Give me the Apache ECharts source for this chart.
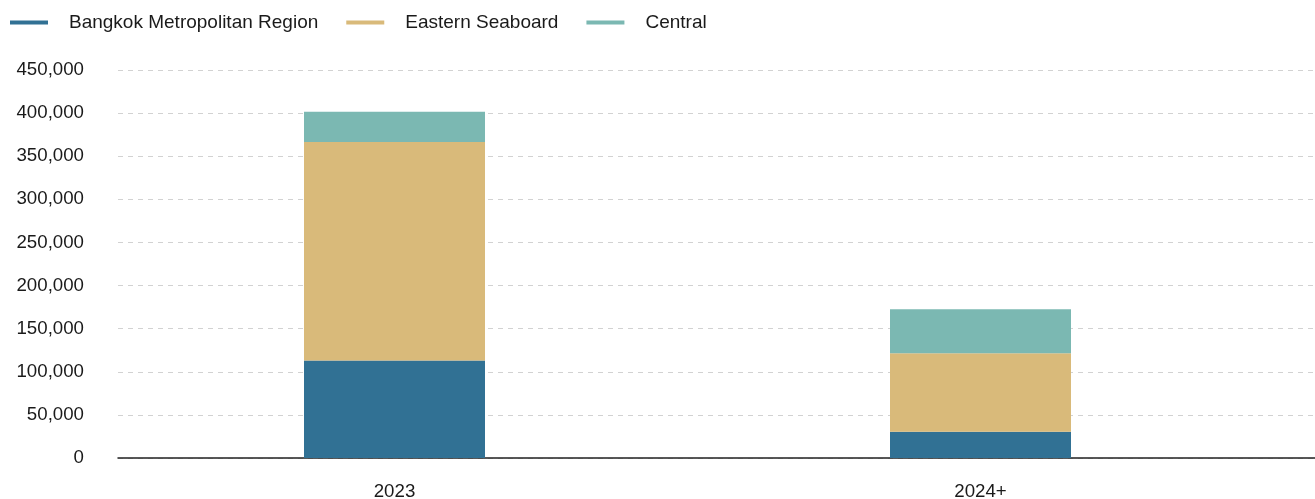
<!DOCTYPE html>
<html>
<head>
<meta charset="utf-8">
<script src="https://cdn.jsdelivr.net/npm/echarts@6/dist/echarts.min.js"></script>
<style>
html,body{margin:0;padding:0;background:#fff;}
#chart{width:1315px;height:499px;}
</style>
</head>
<body>
<div id="chart"></div>
<script>
const categories = ['2023', '2024+'];
const bangkok = [113000, 30500];
const eastern = [253500, 91000];
const central = [35000, 51000];
const seriesNames = ['Bangkok Metropolitan Region', 'Eastern Seaboard', 'Central'];
const colors = ['#317194', '#d9ba7a', '#7bb8b2'];
const yMax = 450000;
const yInterval = 50000;

const FONT = '"Liberation Sans", Arial, Helvetica, sans-serif';
const chart = echarts.init(document.getElementById('chart'), null, {renderer: 'canvas'});

const option = {
  backgroundColor: '#ffffff',
  animation: false,
  textStyle: {fontFamily: FONT},
  legend: {
    left: 5,
    top: 8,
    icon: 'rect',
    itemWidth: 38,
    itemHeight: 4,
    itemGap: 28,
    textStyle: {fontFamily: FONT, fontSize: 19, color: '#1a1a1a', padding: [0, 0, 0, 16]},
    data: seriesNames
  },
  grid: [
    {left: 118, right: 0, top: 70, height: 388, containLabel: false, outerBoundsMode: 'none'},
    {left: 101.5, width: 1172, top: 70, height: 388, containLabel: false, outerBoundsMode: 'none'}
  ],
  xAxis: [
    {
      gridIndex: 0, type: 'category', data: categories,
      axisLine: {show: true, lineStyle: {color: '#222', width: 1.5}},
      axisTick: {show: false}, axisLabel: {show: false}, splitLine: {show: false}
    },
    {
      gridIndex: 1, type: 'category', data: categories,
      axisLine: {show: false}, axisTick: {show: false},
      axisLabel: {show: true, margin: 24, fontFamily: FONT, fontSize: 18.7, color: '#1a1a1a'},
      splitLine: {show: false}
    }
  ],
  yAxis: [
    {
      gridIndex: 0, type: 'value', min: 0, max: yMax, interval: yInterval,
      axisLine: {show: false}, axisTick: {show: false},
      axisLabel: {
        show: true, margin: 34, fontFamily: FONT, fontSize: 18.7, color: '#1a1a1a',
        formatter: v => v.toLocaleString('en-US')
      },
      splitLine: {show: true, lineStyle: {color: '#d2d2d2', type: [5, 5], width: 1}}
    },
    {
      gridIndex: 1, type: 'value', min: 0, max: yMax, interval: yInterval,
      axisLine: {show: false}, axisTick: {show: false},
      axisLabel: {show: false}, splitLine: {show: false}
    }
  ],
  series: [
    {name: seriesNames[0], type: 'bar', stack: 'total', xAxisIndex: 1, yAxisIndex: 1,
     barWidth: 181, data: bangkok, itemStyle: {color: colors[0]}},
    {name: seriesNames[1], type: 'bar', stack: 'total', xAxisIndex: 1, yAxisIndex: 1,
     barWidth: 181, data: eastern, itemStyle: {color: colors[1]}},
    {name: seriesNames[2], type: 'bar', stack: 'total', xAxisIndex: 1, yAxisIndex: 1,
     barWidth: 181, data: central, itemStyle: {color: colors[2]}}
  ]
};
chart.setOption(option);
</script>
</body>
</html>
